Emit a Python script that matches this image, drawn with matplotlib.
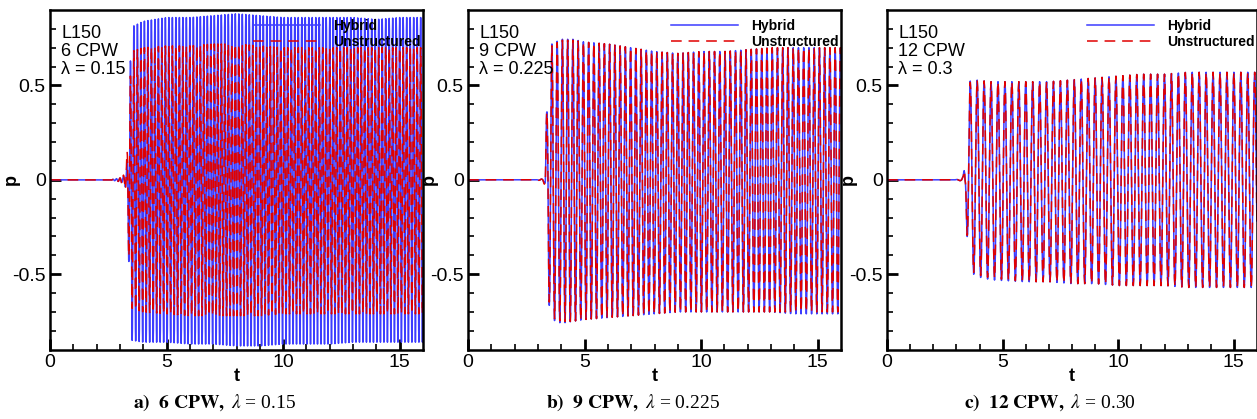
import numpy as np
import matplotlib
matplotlib.use("Agg")
import matplotlib.pyplot as plt

plt.rcParams['font.family'] = ['Liberation Sans', 'DejaVu Sans']
plt.rcParams['mathtext.fontset'] = 'stix'

# envelope of the pressure signal (peak values vs t)
# panel a) 6 CPW, lambda = 0.15
t_env_a = [0, 2.6, 3.0, 3.2, 3.3, 3.4, 3.5, 4, 5, 6, 7, 8, 9, 10, 11, 12, 13, 14, 15, 16]
hyb_up_a = [0, 0, 0.01, 0.02, 0.08, 0.45, 0.81, 0.84, 0.86, 0.86, 0.87, 0.88, 0.87, 0.86, 0.86, 0.86, 0.86, 0.85, 0.86, 0.86]
hyb_lo_a = [0, 0, -0.01, -0.02, -0.08, -0.54, -0.85, -0.86, -0.86, -0.87, -0.87, -0.88, -0.88, -0.87, -0.87, -0.87, -0.86, -0.86, -0.86, -0.86]
uns_up_a = [0, 0, 0.01, 0.03, 0.13, 0.42, 0.68, 0.70, 0.71, 0.71, 0.72, 0.72, 0.71, 0.70, 0.70, 0.70, 0.70, 0.70, 0.70, 0.70]
uns_lo_a = [0, 0, -0.01, -0.03, -0.1, -0.5, -0.68, -0.70, -0.71, -0.72, -0.72, -0.72, -0.72, -0.71, -0.71, -0.71, -0.71, -0.71, -0.71, -0.71]

# panel b) 9 CPW, lambda = 0.225
t_env_b = [0, 2.9, 3.2, 3.3, 3.35, 3.45, 3.6, 4, 4.5, 5, 6, 7, 8, 9, 10, 11, 12, 13, 14, 15, 16]
hyb_up_b = [0, 0, 0.005, 0.02, 0.3, 0.53, 0.72, 0.745, 0.745, 0.73, 0.72, 0.70, 0.68, 0.67, 0.68, 0.68, 0.69, 0.70, 0.70, 0.70, 0.70]
hyb_lo_b = [0, 0, -0.005, -0.02, -0.3, -0.64, -0.74, -0.76, -0.75, -0.74, -0.73, -0.72, -0.71, -0.70, -0.70, -0.70, -0.70, -0.70, -0.71, -0.71, -0.71]
uns_up_b = [0, 0, 0.005, 0.03, 0.3, 0.52, 0.71, 0.74, 0.74, 0.73, 0.72, 0.70, 0.68, 0.67, 0.68, 0.68, 0.69, 0.70, 0.70, 0.70, 0.70]
uns_lo_b = [0, 0, -0.005, -0.03, -0.3, -0.62, -0.73, -0.75, -0.75, -0.74, -0.73, -0.72, -0.71, -0.70, -0.70, -0.70, -0.70, -0.70, -0.70, -0.70, -0.70]

# panel c) 12 CPW, lambda = 0.3
t_env_c = [0, 2.9, 3.2, 3.3, 3.4, 3.5, 3.8, 4.5, 6, 7, 8, 9, 10, 11, 12, 13, 14, 15, 16]
hyb_up_c = [0, 0, 0.005, 0.02, 0.15, 0.52, 0.53, 0.52, 0.52, 0.52, 0.53, 0.54, 0.55, 0.56, 0.56, 0.57, 0.57, 0.57, 0.57]
hyb_lo_c = [0, 0, -0.005, -0.02, -0.05, -0.45, -0.51, -0.53, -0.54, -0.54, -0.55, -0.55, -0.56, -0.56, -0.56, -0.57, -0.57, -0.57, -0.57]
uns_up_c = [0, 0, 0.005, 0.02, 0.15, 0.51, 0.53, 0.52, 0.52, 0.52, 0.53, 0.54, 0.55, 0.56, 0.56, 0.57, 0.57, 0.57, 0.57]
uns_lo_c = [0, 0, -0.005, -0.02, -0.05, -0.44, -0.50, -0.52, -0.54, -0.54, -0.55, -0.55, -0.56, -0.56, -0.56, -0.57, -0.57, -0.57, -0.57]

cpw = [6, 9, 12]
lambdas = [0.15, 0.225, 0.3]
lam_text = ["0.15", "0.225", "0.3"]
cap_lam = ["0.15", "0.225", "0.30"]
cap_letter = ["a)", "b)", "c)"]

panels = [
    (t_env_a, hyb_up_a, hyb_lo_a, uns_up_a, uns_lo_a),
    (t_env_b, hyb_up_b, hyb_lo_b, uns_up_b, uns_lo_b),
    (t_env_c, hyb_up_c, hyb_lo_c, uns_up_c, uns_lo_c),
]

W, H = 1257, 419
lefts = [50, 468, 887]
widths = [373, 373, 370]
ax_top, ax_bot = 10, 349.7


def signal(t, t_env, up, lo, period):
    # oscillation with period lambda and the read-off envelope
    c = np.cos(2 * np.pi * t / period)
    u = np.interp(t, t_env, up)
    l = np.interp(t, t_env, lo)
    return np.where(c >= 0, c * u, -c * l)


fig = plt.figure(figsize=(W / 100, H / 100), dpi=100)

for i in range(3):
    t_env, hu, hl, uu, ul = panels[i]
    lam = lambdas[i]
    ax = fig.add_axes([lefts[i] / W, (H - ax_bot) / H, widths[i] / W, (ax_bot - ax_top) / H])
    t = np.arange(0, 16.0001, lam / 16)
    ax.plot(t, signal(t, t_env, hu, hl, lam), color='#3c3cff', lw=1.1, label='Hybrid')
    ax.plot(t, signal(t, t_env, uu, ul, lam), color='#e00000', lw=1.1,
            dashes=(7, 4.5), label='Unstructured')
    ax.set_xlim(0, 16)
    ax.set_ylim(-0.9, 0.9)
    ax.set_xticks([0, 5, 10, 15])
    ax.set_xticks(np.arange(0, 16, 1), minor=True)
    ax.set_yticks([-0.5, 0, 0.5])
    ax.set_yticklabels(['-0.5', '0', '0.5'])
    ax.set_yticks(np.arange(-0.8, 0.85, 0.1), minor=True)
    ax.tick_params(which='both', direction='in', top=False, right=False,
                   labelsize=14, width=1.2)
    ax.tick_params(axis='y', pad=3)
    ax.tick_params(axis='x', pad=3)
    ax.tick_params(which='major', length=8, width=2)
    ax.tick_params(which='minor', length=4)
    for s in ax.spines.values():
        s.set_linewidth(1.8)
    ax.set_xlabel('t', fontsize=13, fontweight='bold', labelpad=-2)
    ax.set_ylabel('p', fontsize=13, fontweight='bold')
    ax.yaxis.set_label_coords(-30 / widths[i], 0.5)
    ax.text(0.03, 0.955, "L150\n%d CPW\n\u03bb = %s" % (cpw[i], lam_text[i]),
            transform=ax.transAxes, ha='left', va='top', fontsize=13,
            linespacing=1.08)
    leg = ax.legend(loc='upper right', bbox_to_anchor=(1.01, 0.99), frameon=False,
                    fontsize=10, handlelength=4.8, borderaxespad=0.0,
                    handletextpad=1.0, labelspacing=0.15, borderpad=0.4)
    for txt in leg.get_texts():
        txt.set_fontweight('bold')

    cx = (lefts[i] + widths[i] / 2 - 22) / W
    fig.text(cx, 0.04, r"$\mathbf{%s\ \ %d\ CPW,}$ $\mathit{\lambda}$ = %s" % (cap_letter[i], cpw[i], cap_lam[i]),
             ha='center', va='center', fontsize=14, family='Liberation Serif')

fig.savefig('out.png', dpi=100)
